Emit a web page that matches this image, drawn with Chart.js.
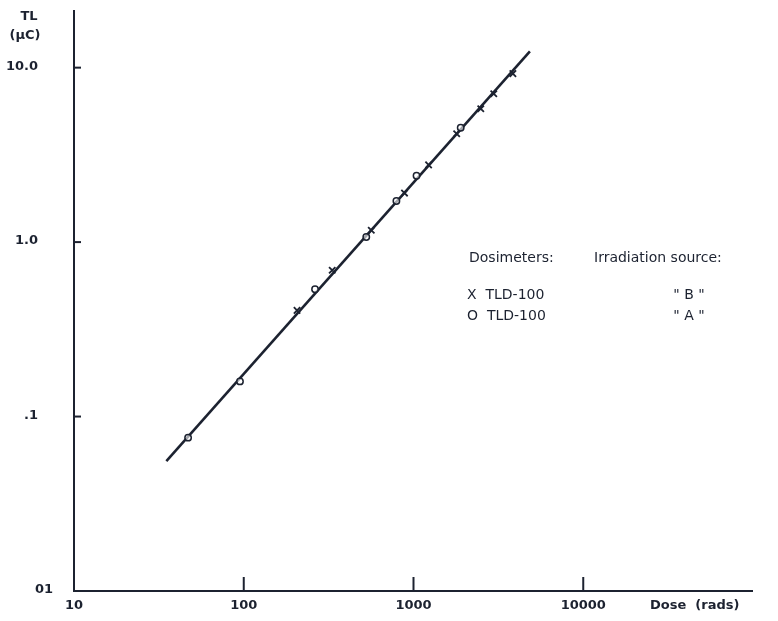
<!DOCTYPE html>
<html>
<head>
<meta charset="utf-8">
<title>TL response vs dose</title>
<script src="https://cdn.jsdelivr.net/npm/chart.js@4.4.1/dist/chart.umd.min.js"></script>
<style>
  html, body { margin: 0; padding: 0; background: #ffffff; }
  #wrap { width: 778px; height: 621px; position: relative; }
</style>
</head>
<body>
<div id="wrap"><canvas id="c" width="778" height="621"></canvas></div>
<script>
// Dosimeters irradiated with source "B" (x marks)
const doseB = [206, 332, 564, 885, 1227, 1796, 2490, 2970, 3850];
const tlB   = [0.406, 0.69, 1.17, 1.91, 2.77, 4.18, 5.81, 7.09, 9.24];

// Dosimeters irradiated with source "A" (o marks)
const doseA = [47, 95, 263, 527, 793, 1042, 1897];
const tlA   = [0.0757, 0.159, 0.537, 1.07, 1.72, 2.40, 4.52];

// Fitted response line (end points)
const fitDose = [35, 4850];
const fitTL   = [0.0556, 12.4];

// Axis ticks and their printed labels
const xTicks = [10, 100, 1000, 10000];
const xTickLabels = ['10', '100', '1000', '10000'];
const yTicks = [10, 1, 0.1, 0.01];
const yTickLabels = ['10.0', '1.0', '.1', '01'];

const INK = '#1c2230';
const FONT = '"DejaVu Sans", "Liberation Sans", sans-serif';

const toPts = (xs, ys) => xs.map((x, i) => ({ x: x, y: ys[i] }));

// Hand-drawn style axes, tick marks, labels and key
const axesPlugin = {
  id: 'paperAxes',
  afterDraw(chart) {
    const ctx = chart.ctx;
    const xs = chart.scales.x, ys = chart.scales.y;
    const a = chart.chartArea;
    const x0 = a.left, yb = a.bottom;
    ctx.save();
    ctx.strokeStyle = INK;
    ctx.fillStyle = INK;
    ctx.lineWidth = 2;
    ctx.lineCap = 'butt';
    // axis lines
    ctx.beginPath();
    ctx.moveTo(x0, a.top);
    ctx.lineTo(x0, yb);
    ctx.lineTo(a.right, yb);
    ctx.stroke();
    // x ticks (pointing up)
    ctx.font = 'bold 13px ' + FONT;
    ctx.textBaseline = 'top';
    ctx.textAlign = 'center';
    xTicks.forEach((v, i) => {
      const px = xs.getPixelForValue(v);
      if (i > 0) {
        ctx.beginPath();
        ctx.moveTo(px, yb);
        ctx.lineTo(px, yb - 14);
        ctx.stroke();
      }
      ctx.fillText(xTickLabels[i], px, yb + 8);
    });
    ctx.textAlign = 'left';
    ctx.fillText('Dose  (rads)', 650, yb + 8);
    // y ticks (pointing right)
    ctx.textBaseline = 'middle';
    ctx.textAlign = 'right';
    yTicks.forEach((v, i) => {
      const py = ys.getPixelForValue(v);
      if (i < yTicks.length - 1) {
        ctx.beginPath();
        ctx.moveTo(x0, py);
        ctx.lineTo(x0 + 7, py);
        ctx.stroke();
      }
      const lx = i === yTicks.length - 1 ? 53 : 38;
      ctx.fillText(yTickLabels[i], lx, py - 1);
    });
    // y axis title
    ctx.textAlign = 'center';
    ctx.fillText('TL', 29, 17);
    ctx.fillText('(\u03bcC)', 25, 36);
    // key
    ctx.font = '14px ' + FONT;
    ctx.textAlign = 'left';
    ctx.fillText('Dosimeters:', 469, 258);
    ctx.fillText('Irradiation source:', 594, 258);
    ctx.fillText('X  TLD-100', 467, 295);
    ctx.fillText('O  TLD-100', 467, 316);
    ctx.textAlign = 'center';
    ctx.fillText('" B "', 689, 295);
    ctx.fillText('" A "', 689, 316);
    ctx.restore();
  }
};

new Chart(document.getElementById('c'), {
  type: 'scatter',
  data: {
    datasets: [
      {
        label: 'Fit',
        data: toPts(fitDose, fitTL),
        showLine: true,
        borderColor: INK,
        borderWidth: 2.6,
        pointRadius: 0,
        order: 1
      },
      {
        label: 'TLD-100 "B"',
        data: toPts(doseB, tlB),
        pointStyle: 'crossRot',
        pointRadius: 4.5,
        borderColor: INK,
        borderWidth: 1.8,
        order: 0
      },
      {
        label: 'TLD-100 "A"',
        data: toPts(doseA, tlA),
        pointStyle: 'circle',
        pointRadius: 3.2,
        backgroundColor: 'rgba(255,255,255,0.6)',
        borderColor: INK,
        borderWidth: 1.5,
        order: 0
      }
    ]
  },
  options: {
    responsive: false,
    animation: false,
    layout: { padding: { left: 74, right: 25, top: 10, bottom: 30 } },
    plugins: { legend: { display: false }, tooltip: { enabled: false } },
    scales: {
      x: { type: 'logarithmic', min: 10, max: 100000, display: false },
      y: { type: 'logarithmic', min: 0.01, max: 21.4, display: false }
    }
  },
  plugins: [axesPlugin]
});
</script>
</body>
</html>
